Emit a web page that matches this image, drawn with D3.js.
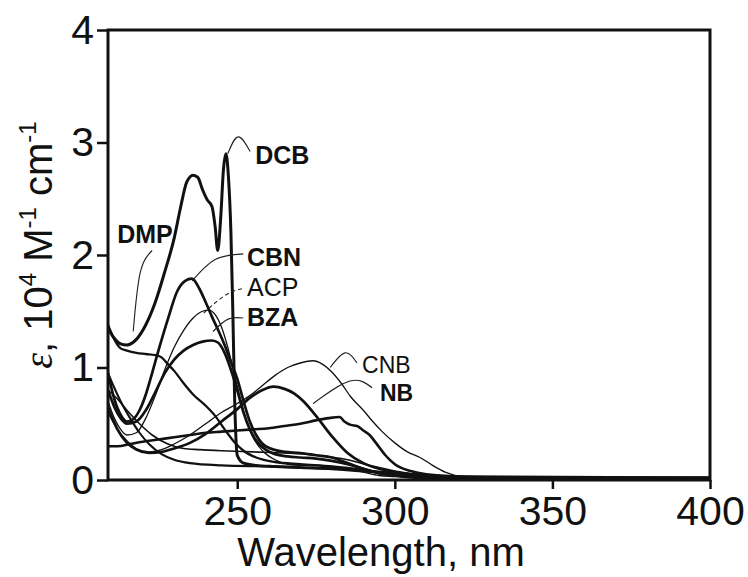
<!DOCTYPE html>
<html><head><meta charset="utf-8">
<script src="https://cdn.jsdelivr.net/npm/d3@7"></script>
<style>body{margin:0;background:#fff}svg{display:block}</style>
</head><body>
<svg id="chart" width="748" height="577"></svg>
<script>
// ---- data (wavelength nm, epsilon in 10^4 M^-1 cm^-1) ----
const xTicks = [250, 300, 350, 400];
const yTicks = [0, 1, 2, 3, 4];

const dcbWl  = [209,211,213,215,218,221,224,227,230,232,234,236,237.5,239,240.5,242,243,243.8,244.8,245.6,246.4,247.2,248,248.6,249.2,250,252,256,262,270,280,290,300,310,320,340,370,400];
const dcbEps = [1.35,1.26,1.21,1.2,1.25,1.38,1.58,1.85,2.15,2.42,2.65,2.71,2.69,2.58,2.49,2.43,2.25,2.04,2.35,2.75,2.9,2.7,2.2,1.5,0.7,0.22,0.15,0.13,0.12,0.11,0.1,0.08,0.06,0.04,0.03,0.02,0.02,0.02];

const dmpWl  = [209,211,213,215,218,221,224,226,228,230,233,236,240,243,246,249,252,256,262,270,280,290,300,310,320,400];
const dmpEps = [1.38,1.25,1.17,1.15,1.13,1.12,1.11,1.09,1.03,0.97,0.86,0.76,0.66,0.57,0.45,0.34,0.26,0.2,0.16,0.14,0.12,0.09,0.05,0.03,0.02,0.01];

const cbnWl  = [209,211,213,215,217,219,221,223,225,228,231,233.5,235.6,238,240,242,244,246,248,250,252,254,256,259,265,270,275,280,285,290,295,300,310,320,400];
const cbnEps = [0.95,0.72,0.58,0.52,0.54,0.62,0.76,0.95,1.15,1.43,1.68,1.77,1.79,1.7,1.58,1.45,1.33,1.2,1.05,0.9,0.7,0.52,0.4,0.3,0.25,0.24,0.22,0.2,0.15,0.1,0.06,0.04,0.02,0.01,0.01];

const acpWl  = [209,211,213,215,218,221,224,227,230,233,236,239,241,243,245,247,249,251,253,255,258,262,266,270,275,280,285,290,295,300,310,320,400];
const acpEps = [0.7,0.55,0.45,0.4,0.42,0.55,0.75,0.98,1.18,1.33,1.44,1.5,1.51,1.47,1.36,1.18,0.95,0.72,0.52,0.38,0.26,0.18,0.14,0.13,0.13,0.12,0.1,0.07,0.04,0.03,0.01,0.01,0.005];

const bzaWl  = [209,211,213,215,218,221,224,227,230,233,236,239,242,244,246,248,250,252,254,256,259,262,266,270,275,280,285,290,295,300,310,320,400];
const bzaEps = [0.8,0.65,0.55,0.5,0.52,0.62,0.78,0.95,1.07,1.15,1.2,1.23,1.24,1.22,1.13,0.98,0.8,0.6,0.45,0.35,0.27,0.23,0.21,0.2,0.19,0.17,0.14,0.1,0.06,0.04,0.02,0.01,0.01];

const nbWl   = [209,212,215,218,222,226,230,235,240,245,250,254,258,261.5,265,268,271,275,280,285,290,295,300,305,310,320,400];
const nbEps  = [0.65,0.45,0.33,0.27,0.24,0.25,0.28,0.33,0.41,0.52,0.63,0.73,0.8,0.83,0.81,0.77,0.7,0.57,0.39,0.24,0.15,0.1,0.07,0.05,0.03,0.02,0.01];

const cnbWl  = [209,212,215,218,222,226,230,235,240,245,250,254,258,262,266,270,274,277,280,283,286,290,293,296,300,304,308,312,316,322,340,400];
const cnbEps = [0.6,0.45,0.35,0.28,0.25,0.27,0.32,0.4,0.5,0.6,0.68,0.75,0.84,0.93,1.0,1.04,1.06,1.03,0.96,0.86,0.74,0.62,0.52,0.43,0.33,0.25,0.2,0.13,0.07,0.03,0.02,0.01];

const s8Wl   = [209,212,216,220,225,230,235,240,245,250,255,260,265,270,275,279,282.5,284,286,288,290,292,294,297,300,305,310,320,400];
const s8Eps  = [0.3,0.3,0.32,0.34,0.36,0.38,0.4,0.42,0.43,0.44,0.45,0.46,0.48,0.5,0.53,0.55,0.56,0.52,0.49,0.48,0.44,0.4,0.33,0.22,0.14,0.08,0.05,0.03,0.02];

const s9Wl   = [209,211,213,216,219,222,226,230,235,245,260,280,290,300,310,320,400];
const s9Eps  = [0.95,0.82,0.7,0.55,0.42,0.32,0.23,0.18,0.15,0.13,0.12,0.1,0.08,0.05,0.03,0.02,0.01];

const s10Wl  = [209,212,215,219,223,228,233,238,245,255,265,275,285,292,300,310,320,400];
const s10Eps = [0.8,0.72,0.62,0.5,0.4,0.32,0.28,0.27,0.26,0.25,0.24,0.22,0.18,0.13,0.08,0.04,0.02,0.01];

const seriesNames = ["DCB","DMP","CBN","ACP","BZA","NB","CNB","S8","S9","S10"];
const seriesWl  = [dcbWl,dmpWl,cbnWl,acpWl,bzaWl,nbWl,cnbWl,s8Wl,s9Wl,s10Wl];
const seriesEps = [dcbEps,dmpEps,cbnEps,acpEps,bzaEps,nbEps,cnbEps,s8Eps,s9Eps,s10Eps];

// annotation labels (data coords) and leader lines (3 points each, data coords)
const labelText = ["DCB","DMP","CBN","ACP","BZA","CNB","NB"];
const labelWl   = [255.7,211.9,253.1,253.1,253.1,289.6,295.3];
const labelEps  = [2.81,2.11,1.90,1.64,1.37,0.95,0.70];
const leaderWl  = [[254.1,250.3,247.0],[223.0,219.2,217.0],[251.9,243.0,235.7],[251.5,246.1,239.2],[251.9,247.1,242.3],[288.0,284.2,279.5],[292.8,285.8,274.1]];
const leaderEps = [[2.92,3.05,2.9],[2.04,1.84,1.32],[2.01,1.96,1.77],[1.70,1.64,1.48],[1.44,1.43,1.32],[1.04,1.13,1.0],[0.82,0.88,0.68]];

// ---- styles ----
const widths = {DCB:3, DMP:2.3, CBN:2.7, ACP:1.3, BZA:2.7, NB:2.7, CNB:1.3, S8:2.6, S9:2.1, S10:1.6};
const boldLabel = {DCB:true, DMP:true, CBN:true, ACP:false, BZA:true, CNB:false, NB:true};

const svg = d3.select("#chart");
const L = 108, R = 710, T = 30, B = 480;
const x = d3.scaleLinear().domain([209, 400]).range([L, R]);
const y = d3.scaleLinear().domain([0, 4]).range([B, T]);
const font = "'Liberation Sans', Arial, Helvetica, sans-serif";

svg.append("rect").attr("width",748).attr("height",577).attr("fill","#fff");

svg.append("clipPath").attr("id","clip").append("rect")
  .attr("x",L).attr("y",T).attr("width",R-L).attr("height",B-T);

const line = d3.line().x(d=>x(d[0])).y(d=>y(d[1])).curve(d3.curveMonotoneX);
const g = svg.append("g").attr("clip-path","url(#clip)");
seriesNames.forEach((name,i)=>{
  const pts = seriesWl[i].map((w,j)=>[w, seriesEps[i][j]]);
  g.append("path").attr("d", line(pts)).attr("fill","none")
    .attr("stroke","#111").attr("stroke-width", widths[name])
    .attr("stroke-linejoin","round").attr("stroke-linecap","round");
});

// leader lines and labels
const leader = d3.line().x(d=>x(d[0])).y(d=>y(d[1])).curve(d3.curveNatural);
labelText.forEach((t,i)=>{
  const pts = leaderWl[i].map((w,j)=>[w, leaderEps[i][j]]);
  svg.append("path").attr("d", leader(pts)).attr("fill","none")
    .attr("stroke","#222").attr("stroke-width",1.1)
    .attr("stroke-dasharray", t==="ACP" ? "4,3" : null);
  svg.append("text").attr("x", x(labelWl[i])).attr("y", y(labelEps[i]))
    .attr("font-family", font).attr("font-size", (t==="CNB"||t==="NB") ? 23 : 25)
    .attr("font-weight", boldLabel[t] ? "bold" : "normal")
    .attr("fill","#111").text(t);
});

// frame
svg.append("rect").attr("x",L).attr("y",T).attr("width",R-L).attr("height",B-T)
  .attr("fill","none").attr("stroke","#111").attr("stroke-width",3);

// axes
const ax = svg.append("g").attr("transform",`translate(0,${B})`)
  .call(d3.axisBottom(x).tickValues(xTicks).tickSize(9).tickPadding(7).tickFormat(d3.format("d")));
const ay = svg.append("g").attr("transform",`translate(${L},0)`)
  .call(d3.axisLeft(y).tickValues(yTicks).tickSize(11).tickPadding(3).tickFormat(d3.format("d")));
[ax, ay].forEach(a=>{
  a.select(".domain").remove();
  a.selectAll(".tick line").attr("stroke","#111").attr("stroke-width",2.5);
  a.selectAll(".tick text").attr("font-family",font).attr("font-size",41).attr("fill","#111");
});

// axis titles
svg.append("text").attr("x", 381).attr("y", 566).attr("text-anchor","middle")
  .attr("font-family",font).attr("font-size",40).attr("fill","#111").text("Wavelength, nm");

const yt = svg.append("text").attr("transform","translate(52,245) rotate(-90)")
  .attr("text-anchor","middle").attr("font-family",font).attr("font-size",40).attr("fill","#111");
yt.append("tspan").attr("font-family","'Liberation Serif', serif").attr("font-style","italic").text("ε");
yt.append("tspan").text(", 10");
yt.append("tspan").attr("font-size",24).attr("dy",-16).text("4");
yt.append("tspan").attr("dy",16).text(" M");
yt.append("tspan").attr("font-size",24).attr("dy",-16).text("-1");
yt.append("tspan").attr("dy",16).text(" cm");
yt.append("tspan").attr("font-size",24).attr("dy",-16).text("-1");
</script>
</body></html>
